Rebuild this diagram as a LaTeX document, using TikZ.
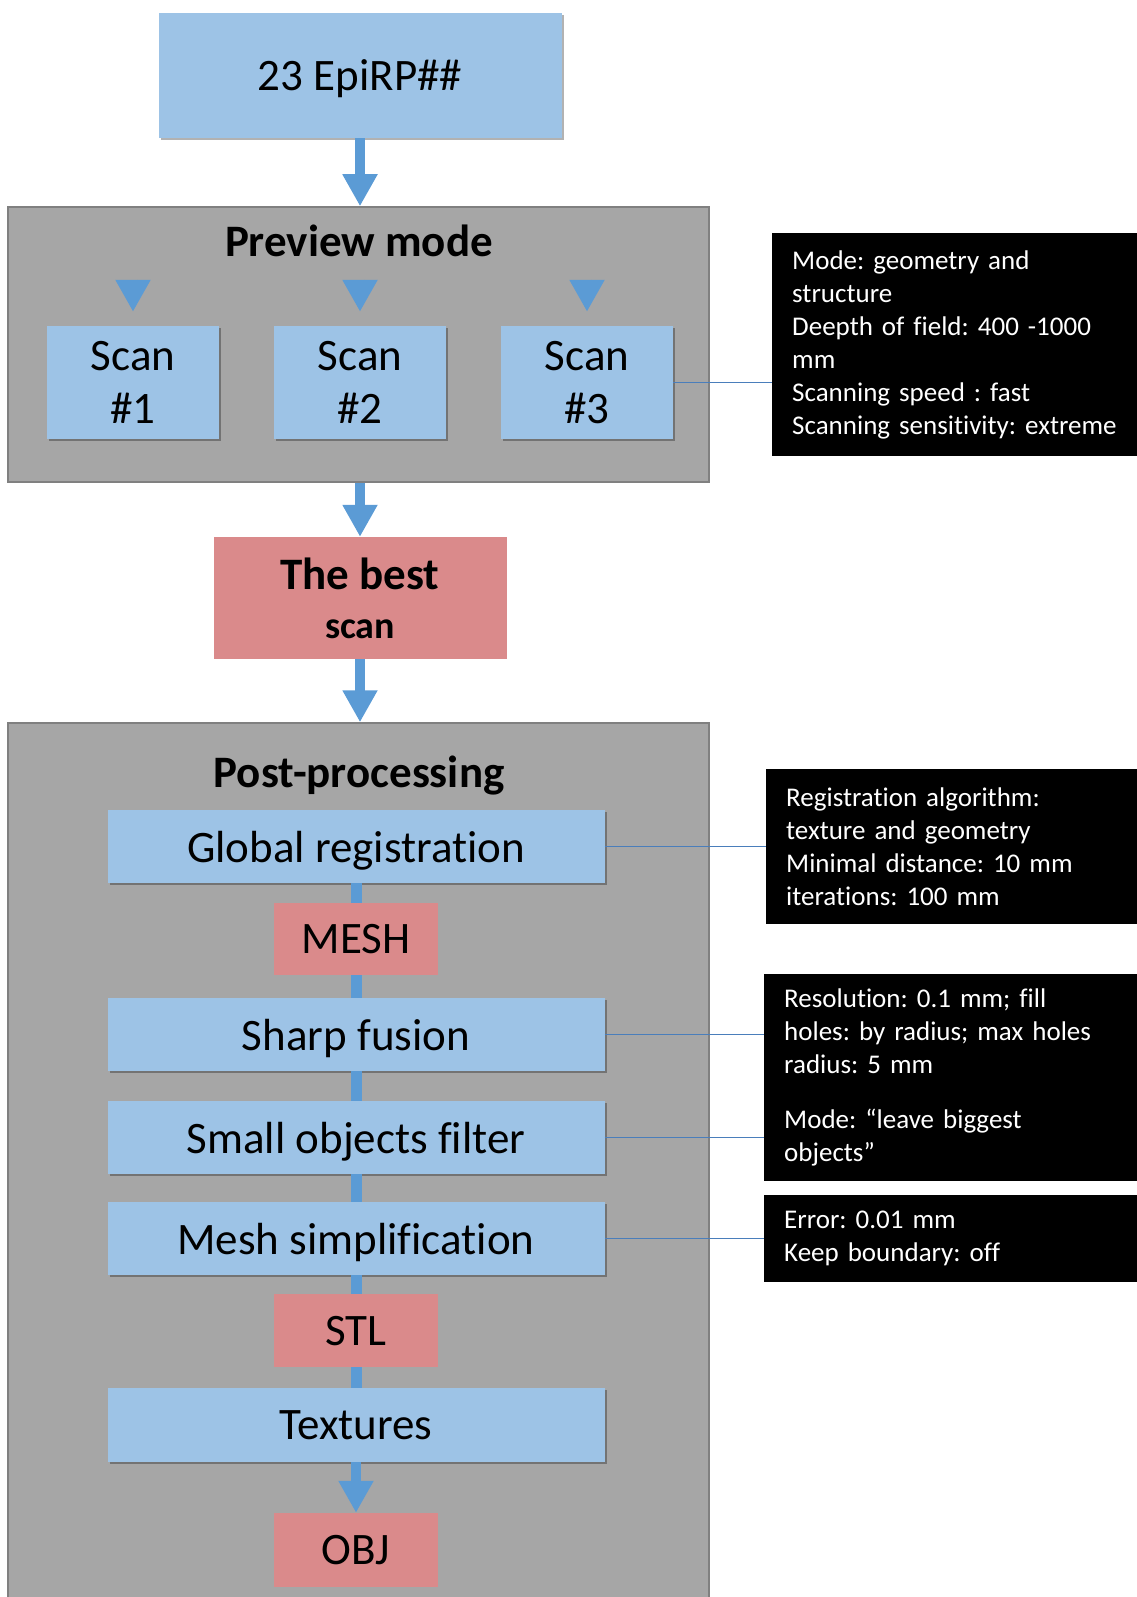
\documentclass[tikz,border=0pt]{standalone}
\usepackage{fontspec}
\setmainfont{Carlito}[Ligatures=NoCommon]
\usetikzlibrary{arrows.meta,shadows}
\frenchspacing

\definecolor{boxblue}{HTML}{9DC3E6}
\definecolor{boxred}{HTML}{DA8A8B}
\definecolor{flowblue}{HTML}{5B9BD5}
\definecolor{panelgray}{HTML}{A6A6A6}
\definecolor{panelline}{HTML}{808080}
\definecolor{noteblue}{HTML}{4A7EBB}

\begin{document}
\begin{tikzpicture}[x=1pt,y=-1pt]

\tikzset{panel/.style = {draw=panelline, line width=1.5pt, fill=panelgray}}
\tikzset{stage/.style = {fill=boxblue, inner sep=0pt, text depth=0pt, align=center,
  font=\fontsize{45}{53}\selectfont,
  drop shadow={fill=black, opacity=0.3, shadow xshift=2pt, shadow yshift=-2pt}}}
\tikzset{result/.style = {fill=boxred, inner sep=0pt, text depth=0pt, align=center,
  font=\fontsize{45}{49}\selectfont}}
\tikzset{heading/.style = {anchor=base, font=\fontsize{45}{53}\selectfont\bfseries}}
\tikzset{info/.style = {fill=black, text=white, anchor=west, inner xsep=20pt, inner ysep=0pt,
  text width=352pt, align=left, font=\fontsize{27}{33}\selectfont}}
\tikzset{flow/.style = {draw=flowblue, line width=10pt, -{Triangle[length=32pt,width=33pt]}}}
\tikzset{link/.style = {draw=flowblue, line width=11pt}}
\tikzset{note/.style = {draw=noteblue, line width=1.5pt}}

\useasboundingbox (0,0) rectangle (1136,1597);

% panels
\node[panel, minimum width=701pt, minimum height=275pt] (preview) at (358.5,344.5) {};
\node[panel, minimum width=701pt, minimum height=877pt] (post) at (358.5,1161.5) {};
\node[heading] (previewtitle) at (359,257) {Preview mode};
\node[heading] (posttitle) at (359,787) {Post-processing};

% boxes
\node[stage, minimum width=403pt, minimum height=125pt] (epi) at (360,75.5) {23 EpiRP\#\#};
\node[stage, minimum width=172pt, minimum height=113pt] (scan1) at (133,382.5) {Scan\\\#1};
\node[stage, minimum width=172pt, minimum height=113pt] (scan2) at (360,382.5) {Scan\\\#2};
\node[stage, minimum width=172pt, minimum height=113pt] (scan3) at (587,382.5) {Scan\\\#3};
\node[result, minimum width=293pt, minimum height=122pt, font=\fontsize{45}{49}\selectfont\bfseries]
  (best) at (360,598) {The best\\{\fontsize{38}{49}\selectfont scan}};

\node[stage, minimum width=497pt, minimum height=73pt] (global) at (356,846.5) {Global registration};
\node[result, minimum width=164pt, minimum height=72pt] (mesh) at (356,939) {MESH};
\node[stage, minimum width=497pt, minimum height=73pt] (sharp) at (356,1034.5) {Sharp fusion};
\node[stage, minimum width=497pt, minimum height=73pt] (small) at (356,1137.5) {Small objects filter};
\node[stage, minimum width=497pt, minimum height=73pt] (simpl) at (356,1238.5) {Mesh simplification};
\node[result, minimum width=164pt, minimum height=73pt] (stl) at (356,1330.5) {STL};
\node[stage, minimum width=497pt, minimum height=74pt] (textures) at (356,1425) {Textures};
\node[result, minimum width=164pt, minimum height=74pt] (obj) at (356,1550) {OBJ};

% settings
\node[info, minimum height=223pt] (modeinfo) at (772,344.5)
  {Mode: geometry and\\structure\\Deepth of field: 400 -1000\\mm\\Scanning speed : fast\\Scanning sensitivity: extreme};
\node[info, minimum height=155pt] (reginfo) at (766,846.3)
  {Registration algorithm:\\texture and geometry\\Minimal distance: 10 mm\\iterations: 100 mm};
\node[info, minimum height=207pt] (fusioninfo) at (764,1077.5)
  {Resolution: 0.1 mm; fill\\holes: by radius; max holes\\radius: 5 mm\\[22pt]Mode: “leave biggest\\objects”};
\node[info, minimum height=87pt] (simplinfo) at (764,1238)
  {Error: 0.01 mm\\Keep boundary: off};

% arrows
\draw[flow] (epi.south) -- (epi.south |- preview.north);
\foreach \i in {1,2,3}
  \draw[flow] ([yshift=46pt]scan\i.north) -- ([yshift=14pt]scan\i.north);
\draw[flow] (preview.south -| best.north) -- (best.north);
\draw[flow] (best.south) -- (best.south |- post.north);

\draw[link] (global.south) -- (mesh.north);
\draw[link] (mesh.south) -- (sharp.north);
\draw[link] (sharp.south) -- (small.north);
\draw[link] (small.south) -- (simpl.north);
\draw[link] (simpl.south) -- (stl.north);
\draw[link] (stl.south) -- (textures.north);
\draw[flow] (textures.south) -- (obj.north);

% notes
\draw[note] (scan3.east) -- (scan3.east -| modeinfo.west);
\draw[note] (global.east) -- (global.east -| reginfo.west);
\draw[note] (sharp.east) -- (sharp.east -| fusioninfo.west);
\draw[note] (small.east) -- (small.east -| fusioninfo.west);
\draw[note] (simpl.east) -- (simpl.east -| simplinfo.west);

\end{tikzpicture}
\end{document}
